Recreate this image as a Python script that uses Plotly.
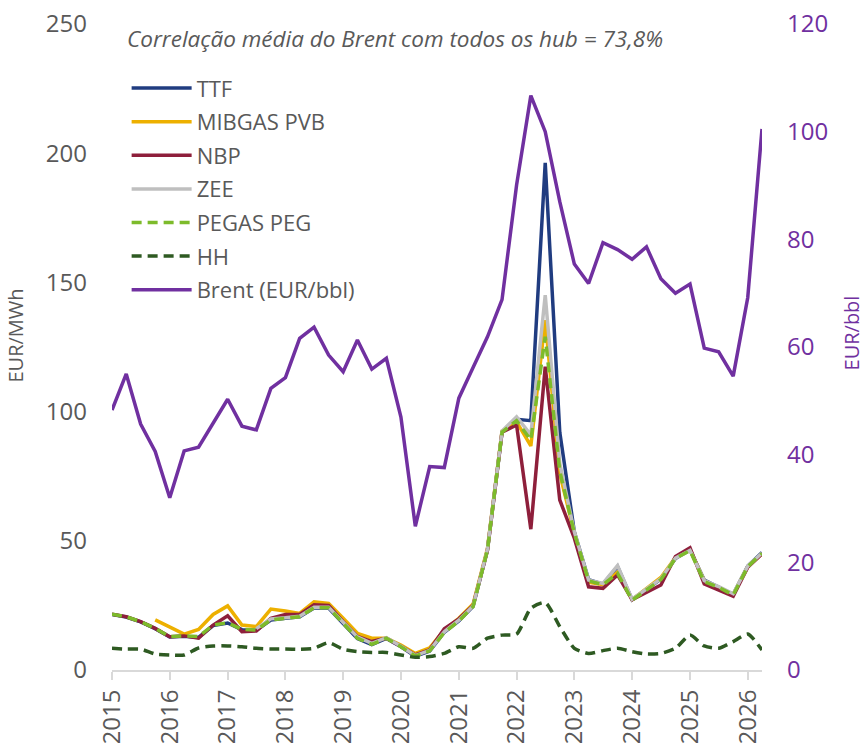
import plotly.graph_objects as go

QUARTERS = [f"{y}-{m:02d}-01" for y in range(2015, 2027) for m in (1, 4, 7, 10)][:46]

TTF = [21.5, 20.5, 18.6, 16.0,
       12.8, 13.1, 12.6, 17.2,
       18.2, 15.6, 15.4, 19.3,
       20.0, 20.6, 24.0, 24.0,
       18.0, 12.2, 9.8, 12.2,
       9.0, 5.3, 7.3, 14.6,
       19.0, 24.6, 46.5, 92.0,
       97.0, 96.5, 196.3, 92.0,
       53.5, 35.0, 33.2, 40.0,
       27.2, 31.0, 35.2, 43.2,
       46.5, 34.8, 32.2, 29.3,
       40.2, 45.5]

MIBGAS = [None, None, None, 19.4,
          16.5, 13.9, 15.7, 21.5,
          24.8, 17.4, 16.8, 23.6,
          22.8, 21.9, 26.4, 25.8,
          20.0, 14.2, 12.3, 12.3,
          9.7, 6.4, 8.6, 15.5,
          20.0, 25.5, 47.0, 92.5,
          96.0, 86.7, 135.4, 76.0,
          53.0, 34.0, 33.0, 37.8,
          27.2, 31.5, 35.8, 43.5,
          46.5, 34.5, 32.0, 29.2,
          40.0, 45.0]

NBP = [21.6, 20.6, 18.7, 16.1,
       12.9, 13.2, 12.3, 17.4,
       21.0, 14.8, 15.1, 20.0,
       21.5, 21.5, 25.2, 25.0,
       18.7, 13.0, 11.0, 12.3,
       9.2, 5.8, 7.8, 16.0,
       19.8, 25.0, 46.4, 92.0,
       94.8, 54.5, 117.4, 65.8,
       51.0, 32.2, 31.6, 36.8,
       27.2, 29.9, 32.9, 43.9,
       47.3, 33.3, 31.0, 28.5,
       39.8, 45.0]

ZEE = [None, None, None, None,
       None, None, None, None,
       None, None, 16.0, 19.8,
       20.2, 20.8, 24.3, 24.3,
       18.5, 12.8, 10.3, 12.5,
       9.2, 5.6, 7.6, 14.8,
       19.3, 24.8, 46.8, 92.5,
       98.0, 91.0, 145.1, 80.0,
       53.5, 34.8, 33.5, 40.4,
       27.4, 31.2, 35.3, 43.3,
       46.3, 34.6, 32.3, 29.5,
       40.2, 45.3]

PEGAS = [21.6, 20.6, 18.7, 16.1,
         12.9, 13.2, 12.9, 17.4,
         18.3, 15.7, 15.5, 19.4,
         20.0, 20.6, 24.1, 24.1,
         18.1, 12.3, 9.9, 12.3,
         9.0, 5.4, 7.4, 14.5,
         19.0, 24.5, 46.4, 92.0,
         96.5, 89.0, 129.0, 77.0,
         53.0, 34.5, 33.0, 37.4,
         27.0, 31.0, 35.0, 43.2,
         46.2, 34.2, 32.0, 29.0,
         40.0, 45.1]

HH = [8.4, 8.1, 8.1, 6.2,
      5.8, 5.8, 8.5, 9.3,
      9.3, 9.0, 8.4, 8.1,
      8.1, 8.0, 8.4, 10.6,
      8.0, 7.1, 6.8, 6.8,
      5.8, 4.9, 5.2, 6.4,
      9.0, 8.4, 12.3, 13.5,
      13.9, 23.9, 26.1, 16.8,
      8.4, 6.4, 7.5, 8.4,
      7.1, 6.2, 6.4, 8.4,
      13.5, 9.3, 8.4, 11.0,
      13.9, 7.7]

BRENT = [48.3, 55.0, 45.7, 40.6,
         32.0, 40.7, 41.4, 45.8,
         50.3, 45.3, 44.6, 52.3,
         54.3, 61.6, 63.7, 58.5,
         55.4, 61.3, 55.9, 57.9,
         47.0, 26.7, 37.8, 37.6,
         50.5, 56.2, 61.9, 68.8,
         90.1, 106.7, 100.0, 87.0,
         75.4, 71.8, 79.4, 78.1,
         76.3, 78.6, 72.7, 70.0,
         71.7, 59.8, 59.1, 54.6,
         69.2, 100.5]

YEAR_TICKS = [f"{y}-01-01" for y in range(2015, 2027)]
YEAR_LABELS = [str(y) for y in range(2015, 2027)]

FONT = "Open Sans"
GREY = "#595959"
PURPLE = "#7030A0"

series = [
    ("TTF", TTF, "#203C80", "solid", "linear"),
    ("MIBGAS PVB", MIBGAS, "#EDB000", "solid", "linear"),
    ("NBP", NBP, "#8E1F3B", "solid", "linear"),
    ("ZEE", ZEE, "#BFBFBF", "solid", "linear"),
    ("PEGAS PEG", PEGAS, "#7DBB2B", "10px,6px", "linear"),
    ("HH", HH, "#2E5A22", "10px,6px", "spline"),
]

fig = go.Figure()
for i, (name, vals, color, dash, shape) in enumerate(series):
    fig.add_trace(go.Scatter(
        x=QUARTERS, y=vals, name=name, mode="lines", legendgroup=f"g{i}",
        line=dict(color=color, width=3.5, dash=dash, shape=shape, smoothing=0.6),
    ))
fig.add_trace(go.Scatter(
    x=QUARTERS, y=BRENT, name="Brent (EUR/bbl)", mode="lines", yaxis="y2", legendgroup="g7",
    line=dict(color=PURPLE, width=3.5),
))

fig.add_annotation(
    text="<i>Correlação média do Brent com todos os hub = 73,8%</i>",
    xref="paper", yref="paper", x=0.02, y=0.978, xanchor="left", yanchor="middle",
    showarrow=False, font=dict(family=FONT, size=22.5, color=GREY),
)
# axis titles as rotated annotations so they sit where the original has them
fig.add_annotation(
    text="EUR/MWh", textangle=-90, xref="paper", yref="paper", x=-0.149, y=0.518,
    xanchor="center", yanchor="middle",
    showarrow=False, font=dict(family=FONT, size=20, color=GREY),
)
fig.add_annotation(
    text="EUR/bbl", textangle=-90, xref="paper", yref="paper", x=1.138, y=0.522,
    xanchor="center", yanchor="middle",
    showarrow=False, font=dict(family=FONT, size=20, color=PURPLE),
)

fig.update_layout(
    width=867, height=743,
    margin=dict(l=112, r=105, t=24, b=73),
    plot_bgcolor="white", paper_bgcolor="white",
    font=dict(family=FONT, color=GREY),
    showlegend=True,
    legend=dict(
        x=0.0225, y=0.933, xanchor="left", yanchor="top",
        font=dict(family=FONT, size=22, color=GREY),
        itemwidth=60, tracegroupgap=2, bgcolor="rgba(0,0,0,0)",
    ),
    xaxis=dict(
        range=["2015-01-01", "2026-04-01"], automargin=False,
        tickvals=YEAR_TICKS, ticktext=YEAR_LABELS, tickangle=-90,
        showgrid=False, showline=True, linecolor="#D9D9D9", linewidth=2,
        ticks="outside", ticklen=8, tickcolor="#D9D9D9", tickwidth=2,
        tickfont=dict(family=FONT, size=24, color=GREY),
    ),
    yaxis=dict(
        range=[0, 250], dtick=50, showgrid=False, zeroline=False, showline=False, automargin=False,
        tickfont=dict(family=FONT, size=24, color=GREY), ticks="", ticklabelstandoff=24,
    ),
    yaxis2=dict(
        range=[0, 120], dtick=20, overlaying="y", side="right", automargin=False,
        showgrid=False, zeroline=False, showline=False,
        tickfont=dict(family=FONT, size=24, color=PURPLE), ticklabelstandoff=24,
    ),
)

fig.write_html(
    "out.html",
    config={"displayModeBar": False},
    post_script="document.body.style.margin='0px';",
)
